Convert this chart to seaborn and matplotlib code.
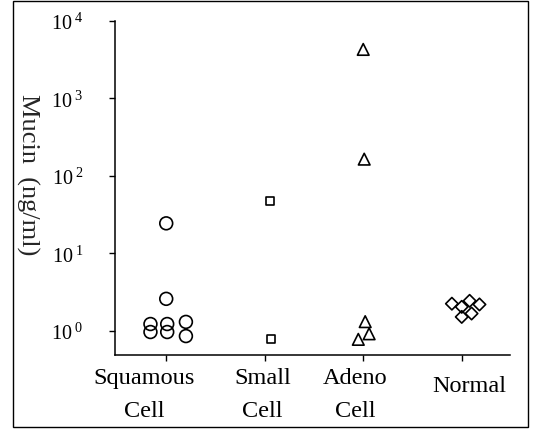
import matplotlib
matplotlib.use("Agg")
import matplotlib.pyplot as plt
import matplotlib.transforms as mtransforms
from matplotlib.patches import Rectangle
import numpy as np
import pandas as pd
import seaborn as sns

# ---- data ----
categories = ["Squamous Cell", "Small Cell", "Adeno Cell", "Normal"]
tick_labels = ["Squamous\nCell", "Small\nCell", "Adeno\nCell", "Normal"]

squamous = [24.5, 2.6, 1.23, 0.97, 1.23, 0.97, 1.31, 0.86]
small = [47.0, 0.78]
adeno = [4300.0, 165.0, 1.32, 0.92, 0.78]
normal = [2.25, 2.05, 2.45, 2.2, 1.52, 1.68]

# horizontal jitter of each point within its category (category units)
squamous_jit = [0.0, 0.0, -0.16, -0.16, 0.01, 0.01, 0.2, 0.2]
small_jit = [0.05, 0.06]
adeno_jit = [0.0, 0.01, 0.02, 0.06, -0.05]
normal_jit = [-0.1, 0.0, 0.08, 0.18, 0.0, 0.1]

y_ticks = [1, 10, 100, 1000, 10000]
y_tick_labels = [r"$\mathregular{10^{\;%d}}$" % e for e in range(5)]

# ---- build table ----
rows = []
for ci, (cat, vals, jit) in enumerate(zip(categories,
                                          [squamous, small, adeno, normal],
                                          [squamous_jit, small_jit, adeno_jit, normal_jit])):
    for v, j in zip(vals, jit):
        rows.append({"group": cat, "x": ci + j, "value": v})
df = pd.DataFrame(rows)

sns.set_style("ticks")
plt.rcParams["font.family"] = ["Liberation Serif", "DejaVu Serif"]
plt.rcParams["mathtext.fontset"] = "custom"
plt.rcParams["mathtext.rm"] = "Liberation Serif"
plt.rcParams["mathtext.it"] = "Liberation Serif:italic"

fig = plt.figure(figsize=(5.33, 4.31), dpi=100)
ax = fig.add_axes([115 / 533, 1 - 356 / 431, 395 / 533, 334 / 431])

markers = {"Squamous Cell": "o", "Small Cell": "s", "Adeno Cell": "^", "Normal": "D"}
sizes = {"Squamous Cell": 85, "Small Cell": 34, "Adeno Cell": 70, "Normal": 40}

for cat in categories:
    sub = df[df["group"] == cat]
    sns.scatterplot(data=sub, x="x", y="value", marker=markers[cat], s=sizes[cat],
                    facecolor="none", edgecolor="black", linewidth=1.2,
                    ax=ax, legend=False, zorder=3)

ax.set_yscale("log")
ax.set_ylim(0.49, 10000)
ax.set_xlim(-0.52, 3.49)
ax.set_yticks(y_ticks)
ax.set_yticklabels(y_tick_labels, fontsize=14.5)
ax.yaxis.set_minor_locator(matplotlib.ticker.NullLocator())
ax.set_xticks(range(len(categories)))
ax.set_xticklabels(tick_labels, fontsize=17.5, linespacing=1.75)

ax.tick_params(axis="y", direction="out", length=4, width=1, pad=19, colors="black")
ax.tick_params(axis="x", direction="out", length=4, width=1, pad=5, colors="black")

# shift x labels like the reference
shifts = [(-22, 0), (-2, 0), (-8, 0), (8, -8)]
for lab, (dx, dy) in zip(ax.get_xticklabels(), shifts):
    lab.set_transform(lab.get_transform() +
                      mtransforms.ScaledTranslation(dx / 100, dy / 100, fig.dpi_scale_trans))

ax.set_xlabel("")
ax.set_ylabel("Mucin  (ng/ml)", fontsize=19, rotation=270)
ax.yaxis.set_label_coords(28 / 533, 1 - 175 / 431, transform=fig.transFigure)
ax.yaxis.label.set_verticalalignment("center")
ax.yaxis.label.set_horizontalalignment("center")

for side in ["top", "right"]:
    ax.spines[side].set_visible(False)
for side in ["left", "bottom"]:
    ax.spines[side].set_linewidth(1.1)
    ax.spines[side].set_color("black")

fig.patches.append(Rectangle((13 / 533, 3 / 431), 515 / 533, 426 / 431,
                             transform=fig.transFigure, fill=False,
                             edgecolor="black", linewidth=1.0))

fig.savefig("out.png", dpi=100)
